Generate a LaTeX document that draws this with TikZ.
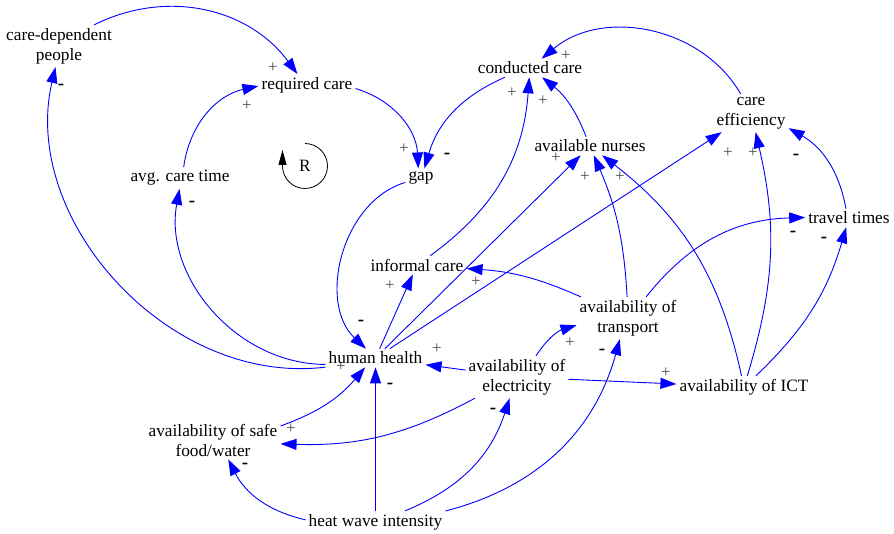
\documentclass[tikz,border=0pt]{standalone}
\usepackage{fontspec}
\setmainfont{Liberation Serif}
\usetikzlibrary{arrows.meta}
\tikzset{
  var/.style={align=center, inner sep=3pt, font=\fontsize{17.3}{20}\selectfont},
  link/.style={blue, line width=0.9pt, -{Triangle[length=16pt,width=11pt]}},
  plussign/.style={black!70, inner sep=0pt, font=\fontsize{17}{17}\selectfont},
  minussign/.style={inner sep=0pt, font=\bfseries\fontsize{19}{19}\selectfont}
}
\begin{document}
\begin{tikzpicture}[x=1pt,y=1pt]
  \useasboundingbox (0,0) rectangle (894,-534);
  % variables
  \node[var] (cdp) at (59,-46) {care-dependent\\people};
  \node[var] (reqcare) at (307,-85) {required care};
  \node[var] (condcare) at (530,-68) {conducted care};
  \node[var] (effic) at (751,-113) {care\\efficiency};
  \node[var] (nurses) at (590,-146) {available nurses};
  \node[var] (avgtime) at (180,-178) {avg. care time};
  \node[var] (gap) at (421,-178) {gap};
  \node[var] (travel) at (849,-218) {travel times};
  \node[var] (informal) at (417,-265) {informal care};
  \node[var] (transport) at (628,-318) {availability of\\transport};
  \node[var] (elec) at (517,-377) {availability of\\electricity};
  \node[var] (ict) at (744,-387) {availability of ICT};
  \node[var] (health) at (375.5,-358) {human health};
  \node[var] (food) at (213,-440) {availability of safe\\food/water};
  \node[var] (heat) at (375.5,-522) {heat wave intensity};
  % loop marker
  \node[var] (loopR) at (305,-166) {R};
  \draw[line width=0.8pt,-{Triangle[length=15pt,width=8pt]}] (305,-143.5) arc[start angle=90, end angle=-180, radius=22.5pt] -- ++(0,16);
  % links
  \draw[link] (cdp) to[bend left=40] (reqcare);
  \draw[link] (avgtime) to[bend left=35] (reqcare);
  \draw[link] (reqcare) to[bend left=35] (gap);
  \draw[link] (condcare) to[bend right=25] (gap);
  \draw[link] (gap) to[bend right=60] (health);
  \draw[link] (health) to[bend left=55] (cdp);
  \draw[link] (health) to[bend left=50] (avgtime);
  \draw[link] (health) -- (informal);
  \draw[link] (health) -- (nurses);
  \draw[link] (health) -- (effic);
  \draw[link] (informal) to[bend right=25] (condcare);
  \draw[link] (nurses) to[bend right=15] (condcare);
  \draw[link] (effic) to[bend right=50] (condcare);
  \draw[link] (transport) to[bend right=10] (informal);
  \draw[link] (transport) to[bend right=10] (nurses);
  \draw[link] (transport) to[bend left=25] (travel);
  \draw[link] (ict) to[bend right=20] (nurses);
  \draw[link] (ict) to[bend right=15] (effic);
  \draw[link] (ict) to[bend right=15] (travel);
  \draw[link] (travel) to[bend right=25] (effic);
  \draw[link] (elec) -- (health);
  \draw[link] (elec) to[bend left=20] (transport);
  \draw[link] (elec) -- (ict);
  \draw[link] (elec) to[bend left=15] (food);
  \draw[link] (food) to[bend right=15] (health);
  \draw[link] (heat) to[bend left=25] (food);
  \draw[link] (heat) -- (health);
  \draw[link] (heat) to[bend right=25] (elec);
  \draw[link] (heat) to[bend right=30] (transport);
  % polarities
  \node[plussign] (s1) at (273,-68) {+};
  \node[plussign] (s2) at (247,-106) {+};
  \node[plussign] (s3) at (404,-149) {+};
  \node[minussign] (s4) at (447,-156) {-};
  \node[minussign] (s5) at (61,-87) {-};
  \node[minussign] (s6) at (192,-204) {-};
  \node[minussign] (s7) at (361,-323) {-};
  \node[plussign] (s8) at (390,-286) {+};
  \node[plussign] (s9) at (341,-367) {+};
  \node[plussign] (s10) at (291,-429) {+};
  \node[minussign] (s11) at (245,-466) {-};
  \node[minussign] (s12) at (390,-386) {-};
  \node[plussign] (s13) at (437,-349) {+};
  \node[plussign] (s14) at (476,-282) {+};
  \node[plussign] (s15) at (566,-56) {+};
  \node[plussign] (s16) at (512,-93) {+};
  \node[plussign] (s17) at (543,-101) {+};
  \node[plussign] (s18) at (556,-158) {+};
  \node[plussign] (s19) at (585,-177) {+};
  \node[plussign] (s20) at (620,-177) {+};
  \node[plussign] (s21) at (728,-153) {+};
  \node[plussign] (s22) at (753,-153) {+};
  \node[minussign] (s23) at (796,-157) {-};
  \node[minussign] (s24) at (793,-234) {-};
  \node[minussign] (s25) at (824,-240) {-};
  \node[plussign] (s26) at (570,-343) {+};
  \node[minussign] (s27) at (602,-352) {-};
  \node[plussign] (s28) at (666,-373) {+};
  \node[minussign] (s29) at (493,-411) {-};
\end{tikzpicture}
\end{document}
